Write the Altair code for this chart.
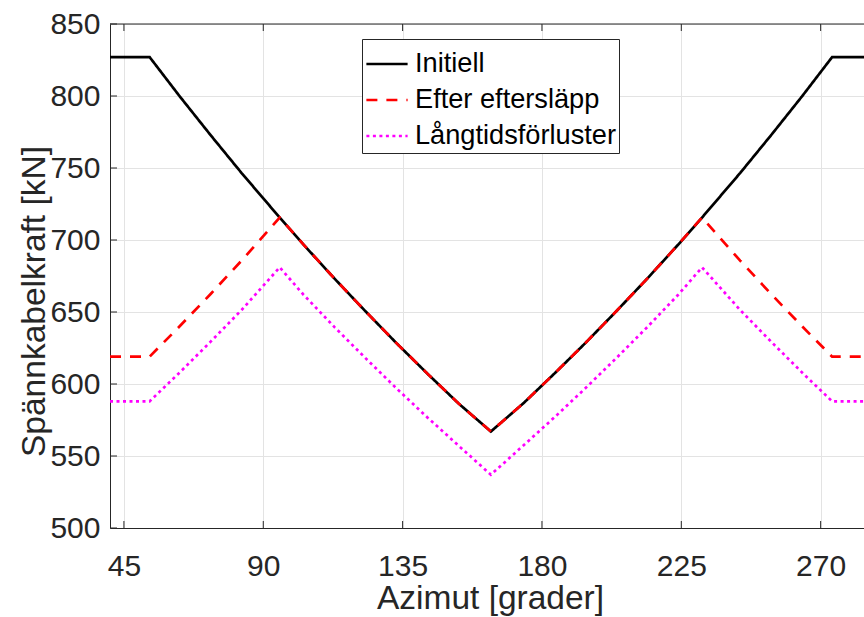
import altair as alt
import pandas as pd

# ---- data ----
azimut = [40.5, 53.3, 63, 73, 83, 95.3, 103, 113, 123, 133, 143, 153, 163.5,
          174, 184, 194, 204, 214, 224, 231.7, 244, 254, 264, 273.7, 284]
initiell = [827, 827, 799.8, 772.8, 746.5, 715.6, 696.8, 673.2, 650.5, 628.4, 607.2, 586.6, 567,
            586.6, 607.2, 628.4, 650.5, 673.2, 696.8, 715.6, 746.5, 772.8, 799.8, 827, 827]
efter = [619, 619, 640.1, 662.5, 685.7, 715.6, 696.8, 673.2, 650.5, 628.4, 607.2, 586.6, 567,
         586.6, 607.2, 628.4, 650.5, 673.2, 696.8, 715.6, 685.7, 662.5, 640.1, 619, 619]
langtid = [588, 588, 608, 629.4, 651.4, 681, 662, 639.5, 618, 597, 576.8, 557.3, 537,
           557.3, 576.8, 597, 618, 639.5, 662, 681, 651.4, 629.4, 608, 588, 588]

series_names = ["Initiell", "Efter eftersläpp", "Långtidsförluster"]
series_colors = ["#000000", "#ff0000", "#ff00ff"]
series_dash = [[1, 0], [11, 9], [3, 3.5]]

x_ticks = [45, 90, 135, 180, 225, 270]
y_ticks = [500, 550, 600, 650, 700, 750, 800, 850]
x_domain = [40.5, 284]
y_domain = [500, 850]

rows = []
for name, vals in zip(series_names, [initiell, efter, langtid]):
    for i, (a, v) in enumerate(zip(azimut, vals)):
        rows.append({"series": name, "azimut": a, "kraft": v, "idx": i})
df = pd.DataFrame(rows)

W, H = 754, 504
FONT = "Liberation Sans"
AXC = "#262626"
GRID = "#e3e3e3"

x_enc = alt.X(
    "azimut:Q",
    scale=alt.Scale(domain=x_domain, nice=False, zero=False),
    axis=alt.Axis(values=x_ticks, title="Azimut [grader]", format="d",
                  labelFontSize=30, titleFontSize=33.5, labelFont=FONT, titleFont=FONT,
                  labelColor=AXC, titleColor=AXC, titleFontWeight="normal",
                  ticks=False, tickSize=0, labelPadding=23,
                  titleX=380, titleY=54, domainColor=AXC, gridColor=GRID,
                  labelFlush=False),
)
y_enc = alt.Y(
    "kraft:Q",
    scale=alt.Scale(domain=y_domain, nice=False, zero=False),
    axis=alt.Axis(values=y_ticks, title="Spännkabelkraft [kN]", format="d",
                  labelFontSize=30, titleFontSize=33.5, labelFont=FONT, titleFont=FONT,
                  labelColor=AXC, titleColor=AXC, titleFontWeight="normal",
                  ticks=False, tickSize=0, labelPadding=10,
                  titleX=-59, titleY=277,
                  domainColor=AXC, gridColor=GRID, labelFlush=False),
)

legend = alt.Legend(
    title=None, orient="none", legendX=252, legendY=15, direction="vertical",
    symbolType="stroke", symbolSize=1700, symbolStrokeWidth=2.6,
    labelFontSize=27.2, labelFont=FONT, labelColor="#000000", labelLimit=400,
    fillColor="#ffffff", strokeColor=AXC, padding=3, rowPadding=0, labelOffset=6,
)

lines = alt.Chart(df).mark_line(strokeWidth=2.7).encode(
    x=x_enc,
    y=y_enc,
    color=alt.Color("series:N", scale=alt.Scale(domain=series_names, range=series_colors), legend=legend),
    strokeDash=alt.StrokeDash("series:N", scale=alt.Scale(domain=series_names, range=series_dash), legend=legend),
    order="idx:Q",
)

top_line = alt.Chart(pd.DataFrame({"kraft": [y_domain[1]]})).mark_rule(color=AXC, strokeWidth=1).encode(y="kraft:Q")

xt = pd.DataFrame({"azimut": x_ticks})
yt = pd.DataFrame({"kraft": y_ticks})
bottom_ticks = alt.Chart(xt).mark_rule(color=AXC, strokeWidth=1).encode(
    x="azimut:Q", y=alt.value(H), y2=alt.value(H - 7))
top_ticks = alt.Chart(xt).mark_rule(color=AXC, strokeWidth=1).encode(
    x="azimut:Q", y=alt.value(0), y2=alt.value(7))
left_ticks = alt.Chart(yt).mark_rule(color=AXC, strokeWidth=1).encode(
    y="kraft:Q", x=alt.value(0), x2=alt.value(7))

chart = alt.layer(lines, top_line, bottom_ticks, top_ticks, left_ticks).properties(
    width=W, height=H,
    padding={"left": 110, "top": 24, "right": 0, "bottom": 89},
    autosize=alt.AutoSizeParams(type="none"),
    background="#ffffff",
).configure_view(stroke=None)

chart.save("out.html", embed_options={"renderer": "svg", "actions": False})
